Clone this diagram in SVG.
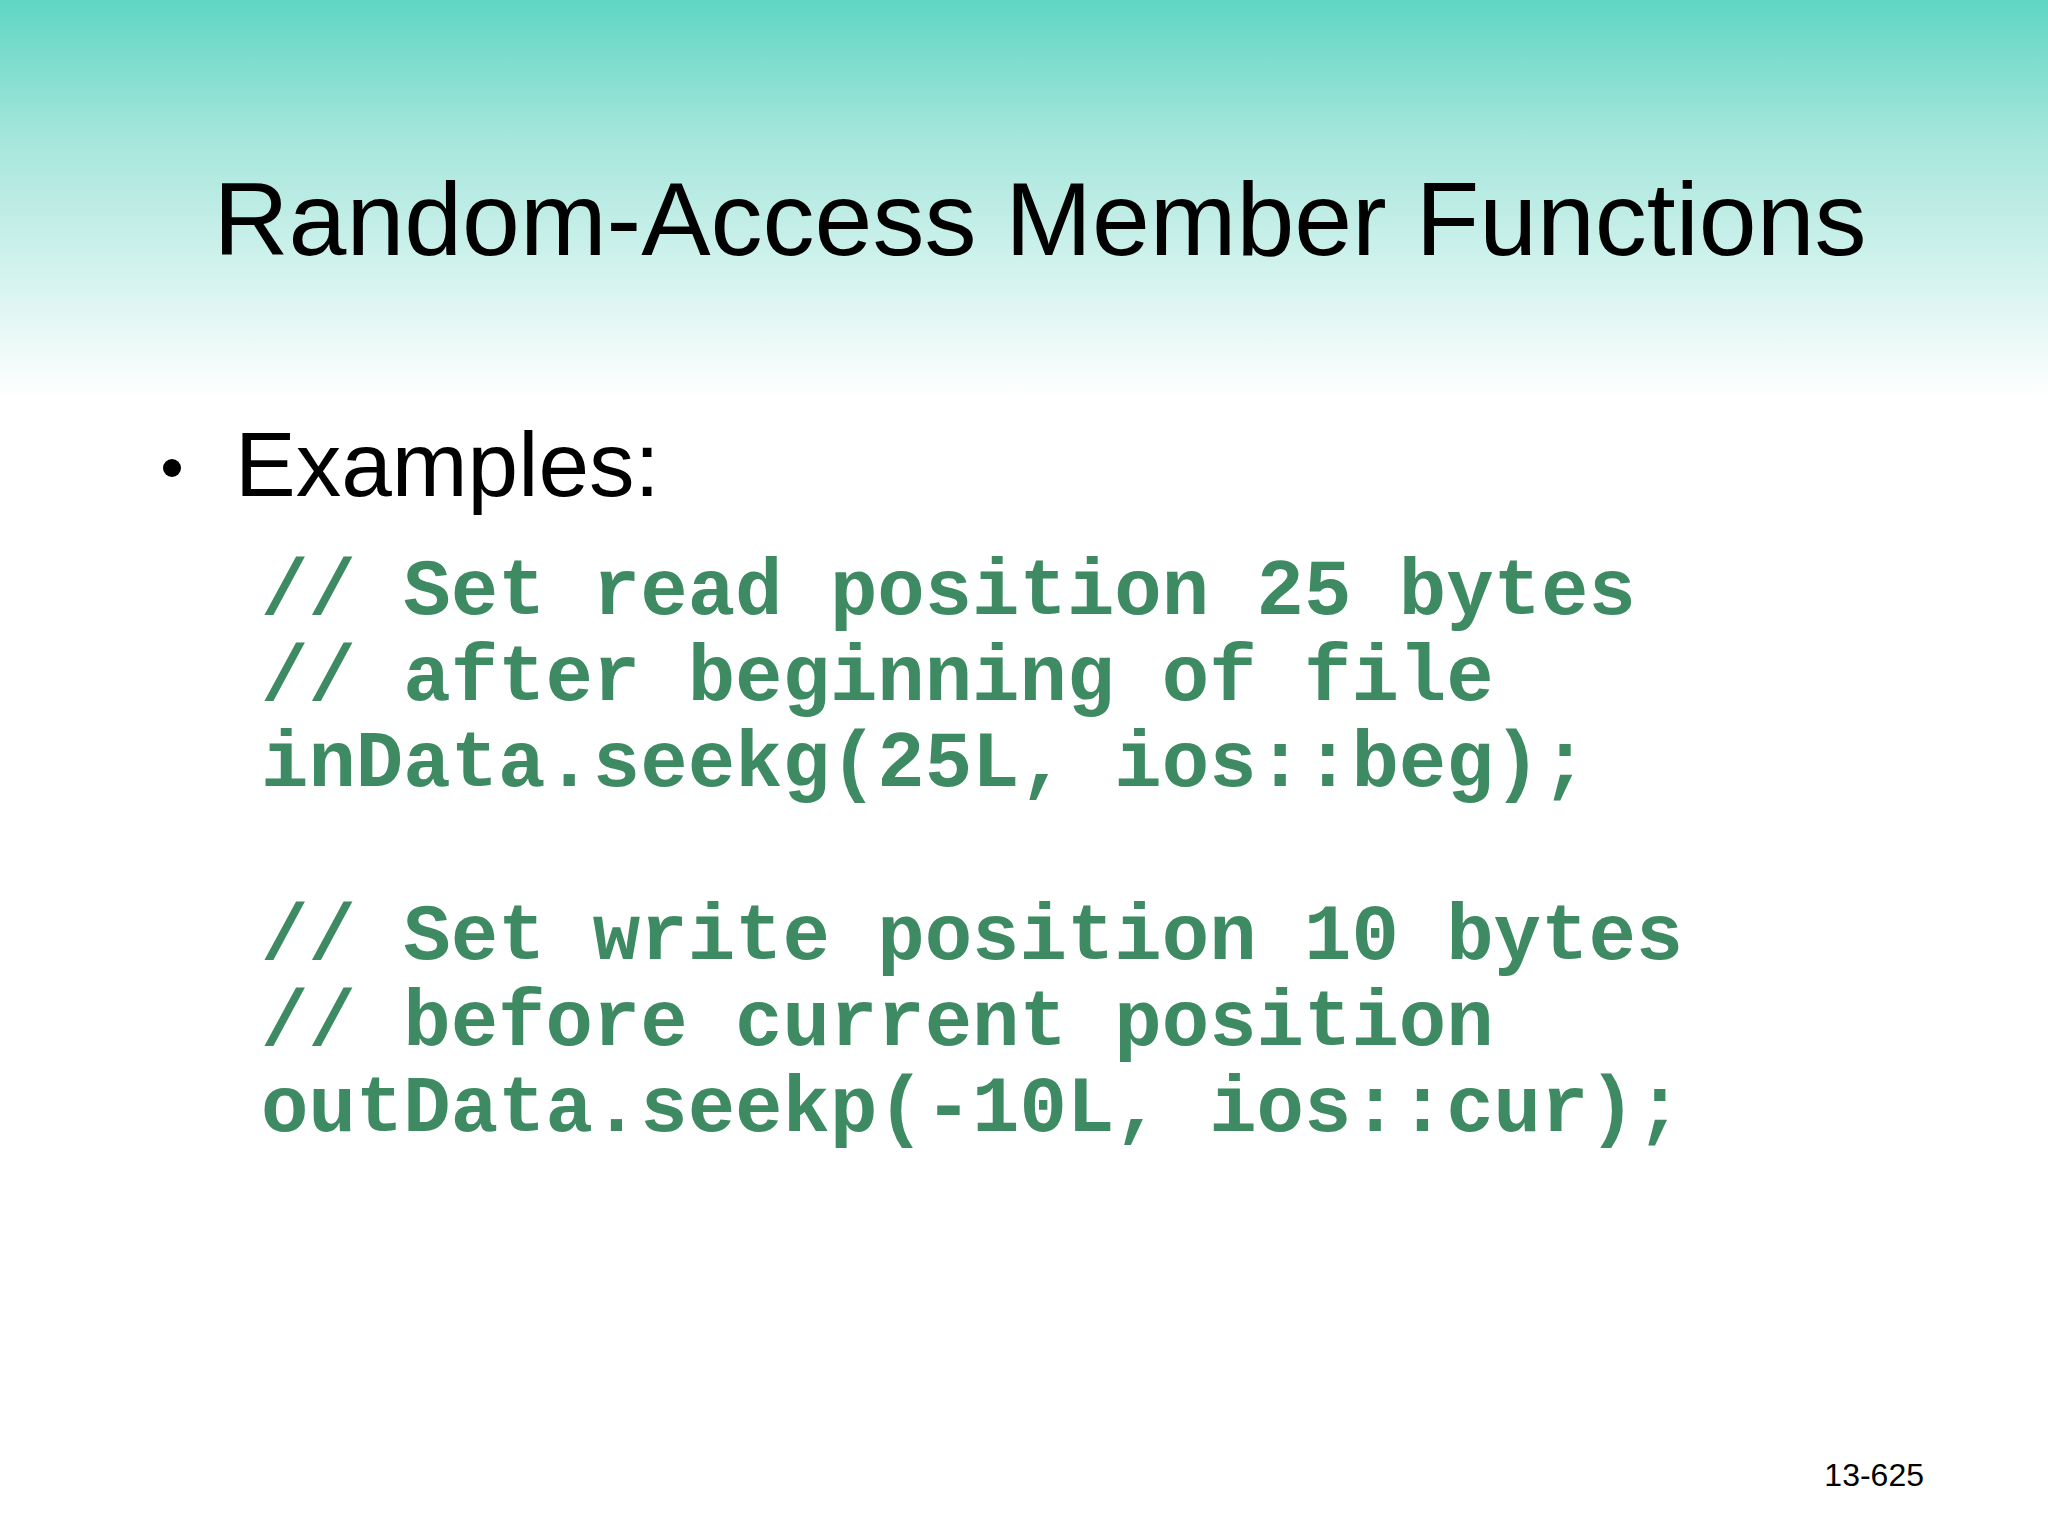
<svg xmlns="http://www.w3.org/2000/svg" width="2048" height="1536" viewBox="0 0 2048 1536">
<defs>
<linearGradient id="bg" x1="0" y1="0" x2="0" y2="1">
<stop offset="0" stop-color="#5fd6c3"/>
<stop offset="0.35" stop-color="#a6e6dc"/>
<stop offset="1" stop-color="#ffffff"/>
</linearGradient>
<style>
.code{font-family:"Liberation Mono",monospace;font-weight:bold;font-size:79px;fill:#3d8a63;white-space:pre}
.sans{font-family:"Liberation Sans",Arial,sans-serif;fill:#000}
</style>
</defs>
<rect width="2048" height="1536" fill="#fff"/>
<rect width="2048" height="400" fill="url(#bg)"/>
<text class="sans" x="1040" y="255" font-size="104" text-anchor="middle">Random-Access Member Functions</text>
<circle cx="172" cy="468" r="9" fill="#000"/>
<text class="sans" x="235" y="496" font-size="91">Examples:</text>
<g>
<text class="code" x="261" y="614">// Set read position 25 bytes</text>
<text class="code" x="261" y="700">// after beginning of file</text>
<text class="code" x="261" y="786">inData.seekg(25L, ios::beg);</text>
<text class="code" x="261" y="959">// Set write position 10 bytes</text>
<text class="code" x="261" y="1045">// before current position</text>
<text class="code" x="261" y="1131">outData.seekp(-10L, ios::cur);</text>
</g>
<text class="sans" x="1924" y="1486" font-size="32" text-anchor="end">13-625</text>
</svg>
